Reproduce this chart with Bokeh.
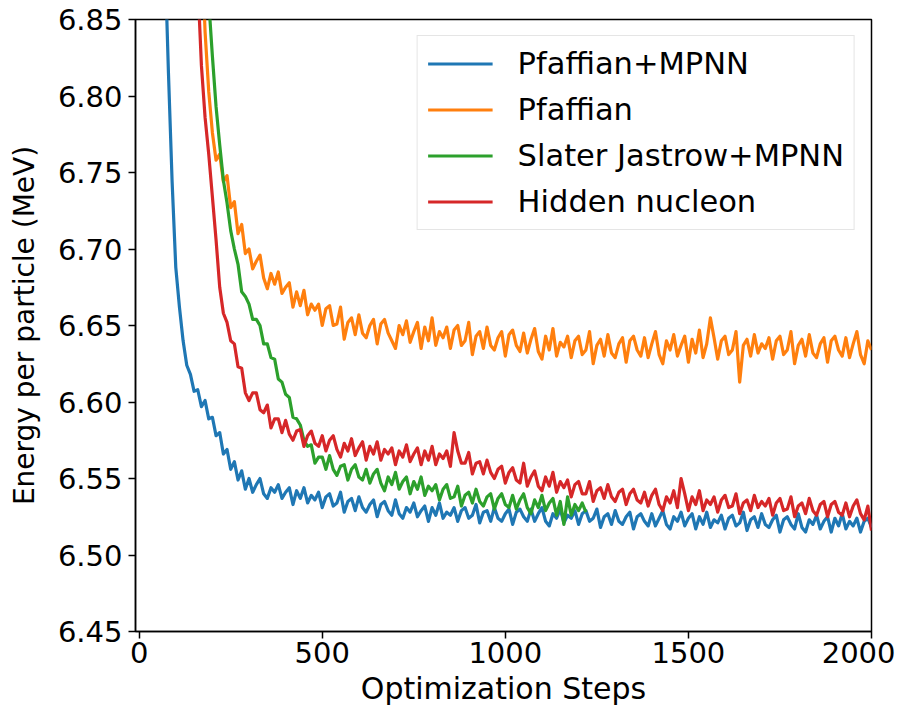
from bokeh.plotting import figure
from bokeh.models import Range1d, FixedTicker, Legend, LegendItem, NumeralTickFormatter
from bokeh.embed import file_html
from bokeh.resources import INLINE

# ---------------- data ----------------
x_ticks = [0, 500, 1000, 1500, 2000]
y_ticks = [6.45, 6.50, 6.55, 6.60, 6.65, 6.70, 6.75, 6.80, 6.85]
step_spacing = 10

series_names = ["Pfaffian+MPNN", "Pfaffian", "Slater Jastrow+MPNN", "Hidden nucleon"]
series_colors = ["#1f77b4", "#ff7f0e", "#2ca02c", "#d62728"]

pfaffian_mpnn_start = 0
pfaffian_mpnn = [
    9.60, 9.00, 8.45, 7.95, 7.55, 7.25, 7.04, 6.895, 6.815, 6.744,
    6.688, 6.662, 6.640, 6.624, 6.618, 6.607, 6.608, 6.597, 6.601, 6.589,
    6.590, 6.578, 6.580, 6.566, 6.569, 6.556, 6.561, 6.549, 6.555, 6.543,
    6.550, 6.541, 6.546, 6.550, 6.540, 6.537, 6.544, 6.541, 6.546, 6.537,
    6.541, 6.544, 6.533, 6.542, 6.537, 6.544, 6.534, 6.539, 6.536, 6.541,
    6.531, 6.538, 6.540, 6.532, 6.534, 6.541, 6.528, 6.535, 6.537, 6.529,
    6.538, 6.531, 6.528, 6.533, 6.536, 6.525, 6.533, 6.535, 6.529, 6.526,
    6.536, 6.527, 6.524, 6.531, 6.528, 6.534, 6.525, 6.529, 6.532, 6.522,
    6.531, 6.526, 6.534, 6.524, 6.528, 6.526, 6.531, 6.522, 6.529, 6.531,
    6.524, 6.526, 6.533, 6.521, 6.528, 6.529, 6.522, 6.531, 6.524, 6.522,
    6.527, 6.530, 6.520, 6.528, 6.530, 6.525, 6.522, 6.530, 6.522, 6.527,
    6.531, 6.522, 6.519, 6.527, 6.524, 6.530, 6.521, 6.526, 6.524, 6.529,
    6.520, 6.527, 6.529, 6.522, 6.524, 6.530, 6.518, 6.525, 6.527, 6.520,
    6.529, 6.522, 6.520, 6.525, 6.528, 6.517, 6.525, 6.527, 6.522, 6.519,
    6.527, 6.519, 6.524, 6.529, 6.520, 6.517, 6.525, 6.522, 6.528, 6.519,
    6.524, 6.527, 6.517, 6.525, 6.520, 6.528, 6.518, 6.523, 6.521, 6.526,
    6.517, 6.524, 6.526, 6.519, 6.521, 6.528, 6.516, 6.523, 6.525, 6.518,
    6.527, 6.520, 6.518, 6.523, 6.526, 6.515, 6.523, 6.525, 6.520, 6.517,
    6.527, 6.518, 6.515, 6.523, 6.520, 6.526, 6.517, 6.522, 6.525, 6.515,
    6.524, 6.519, 6.527, 6.517, 6.522, 6.519, 6.524, 6.515, 6.522, 6.524,
    6.518,
]

pfaffian_start = 140
pfaffian = [
    7.20, 7.08, 6.98, 6.905, 6.842, 6.803, 6.776, 6.758, 6.762, 6.744,
    6.748, 6.727, 6.731, 6.710, 6.716, 6.697,
    6.700, 6.687, 6.692, 6.696, 6.681, 6.674, 6.684, 6.677, 6.685, 6.671,
    6.675, 6.678, 6.662, 6.672, 6.663, 6.673, 6.657, 6.664, 6.660, 6.664,
    6.650, 6.661, 6.663, 6.650, 6.651, 6.662, 6.641, 6.652, 6.655, 6.644,
    6.657, 6.645, 6.642, 6.650, 6.654, 6.638, 6.651, 6.654, 6.645, 6.640,
    6.635, 6.650, 6.644, 6.653, 6.639, 6.646, 6.652, 6.635, 6.649, 6.640,
    6.655, 6.637, 6.646, 6.642, 6.649, 6.635, 6.647, 6.650, 6.637, 6.640,
    6.652, 6.631, 6.643, 6.646, 6.635, 6.649, 6.637, 6.634, 6.642, 6.646,
    6.630, 6.644, 6.647, 6.637, 6.633, 6.645, 6.632, 6.641, 6.648, 6.633,
    6.628, 6.643, 6.634, 6.648, 6.630, 6.639, 6.636, 6.643, 6.629, 6.640,
    6.643, 6.631, 6.634, 6.646, 6.625, 6.637, 6.641, 6.630, 6.644, 6.632,
    6.629, 6.638, 6.642, 6.626, 6.640, 6.643, 6.634, 6.630, 6.642, 6.629,
    6.638, 6.646, 6.631, 6.625, 6.640, 6.634, 6.644, 6.630, 6.637, 6.643,
    6.626, 6.641, 6.632, 6.647, 6.629, 6.638, 6.655, 6.642, 6.628, 6.640,
    6.643, 6.631, 6.634, 6.646, 6.613, 6.637, 6.641, 6.630, 6.644, 6.632,
    6.638, 6.635, 6.642, 6.628, 6.640, 6.643, 6.631, 6.634, 6.646, 6.625,
    6.637, 6.641, 6.630, 6.644, 6.632, 6.629, 6.638, 6.642, 6.626, 6.640,
    6.643, 6.634, 6.630, 6.642, 6.629, 6.638, 6.646, 6.631, 6.625, 6.640,
    6.634,
]

slater_jastrow_start = 150
slater_jastrow = [
    7.15, 7.06, 6.98, 6.92, 6.862, 6.826, 6.793, 6.768, 6.745, 6.730,
    6.712, 6.700, 6.690, 6.672, 6.669,
    6.664, 6.654, 6.654, 6.650, 6.638, 6.638, 6.629, 6.628, 6.615, 6.613,
    6.605, 6.603, 6.590, 6.589, 6.585, 6.575, 6.571, 6.572, 6.560, 6.564,
    6.564, 6.556, 6.565, 6.556, 6.552, 6.558, 6.559, 6.549, 6.556, 6.559,
    6.551, 6.549, 6.556, 6.547, 6.553, 6.556, 6.547, 6.542, 6.551, 6.546,
    6.554, 6.543, 6.548, 6.551, 6.540, 6.548, 6.543, 6.551, 6.539, 6.545,
    6.542, 6.546, 6.536, 6.543, 6.546, 6.537, 6.538, 6.545, 6.532, 6.539,
    6.541, 6.534, 6.543, 6.535, 6.532, 6.538, 6.540, 6.530, 6.537, 6.540,
    6.533, 6.531, 6.539, 6.530, 6.536, 6.540, 6.531, 6.527, 6.536, 6.531,
    6.539, 6.529, 6.534, 6.537, 6.526, 6.535, 6.520, 6.538, 6.526, 6.533,
    6.529, 6.534, 6.528,
]

hidden_nucleon_start = 120
hidden_nucleon = [
    7.15, 7.05, 6.98, 6.93, 6.875, 6.820, 6.786, 6.762, 6.734, 6.706,
    6.675, 6.658, 6.652, 6.640, 6.638, 6.623, 6.622, 6.606,
    6.601, 6.606, 6.606, 6.595, 6.593, 6.598, 6.583, 6.589, 6.589, 6.580,
    6.588, 6.579, 6.575, 6.581, 6.582, 6.571, 6.578, 6.581, 6.573, 6.571,
    6.578, 6.568, 6.575, 6.578, 6.569, 6.564, 6.573, 6.568, 6.576, 6.565,
    6.570, 6.574, 6.562, 6.571, 6.566, 6.574, 6.562, 6.569, 6.566, 6.570,
    6.559, 6.568, 6.564, 6.572, 6.561, 6.566, 6.570, 6.559, 6.568, 6.562,
    6.571, 6.559, 6.566, 6.563, 6.568, 6.558, 6.580, 6.568, 6.560, 6.560,
    6.567, 6.553, 6.560, 6.561, 6.553, 6.562, 6.554, 6.550, 6.556, 6.558,
    6.547, 6.554, 6.557, 6.549, 6.547, 6.560, 6.545, 6.551, 6.555, 6.545,
    6.542, 6.551, 6.545, 6.554, 6.541, 6.548, 6.544, 6.549, 6.538, 6.546,
    6.548, 6.540, 6.540, 6.548, 6.535, 6.542, 6.544, 6.537, 6.546, 6.538,
    6.535, 6.541, 6.543, 6.533, 6.540, 6.543, 6.536, 6.534, 6.541, 6.532,
    6.539, 6.543, 6.533, 6.529, 6.538, 6.534, 6.542, 6.531, 6.550, 6.540,
    6.529, 6.538, 6.533, 6.542, 6.529, 6.536, 6.533, 6.538, 6.528, 6.536,
    6.539, 6.531, 6.532, 6.540, 6.527, 6.534, 6.536, 6.529, 6.539, 6.531,
    6.535, 6.532, 6.537, 6.526, 6.534, 6.537, 6.529, 6.530, 6.538, 6.525,
    6.532, 6.534, 6.527, 6.537, 6.529, 6.526, 6.533, 6.535, 6.525, 6.533,
    6.535, 6.528, 6.526, 6.534, 6.525, 6.532, 6.536, 6.527, 6.523, 6.532,
    6.516,
]

series_values = [pfaffian_mpnn, pfaffian, slater_jastrow, hidden_nucleon]
series_starts = [pfaffian_mpnn_start, pfaffian_start, slater_jastrow_start, hidden_nucleon_start]

# ---------------- figure ----------------
FONT = "DejaVu Sans"

p = figure(width=895, height=708, output_backend="svg", toolbar_location=None,
           x_range=Range1d(-10, 2000), y_range=Range1d(6.45, 6.85),
           min_border_left=135, min_border_right=24,
           min_border_top=19, min_border_bottom=77,
           x_axis_label="Optimization Steps",
           y_axis_label="Energy per particle (MeV)")

p.grid.visible = False
p.outline_line_color = "black"
p.outline_line_width = 1.5
p.outline_line_alpha = 1.0
p.background_fill_color = "white"
p.border_fill_color = "white"

for ax in (p.xaxis[0], p.yaxis[0]):
    ax.major_label_text_font = FONT
    ax.major_label_text_font_size = "29px"
    ax.major_label_text_color = "black"
    ax.axis_label_text_font = FONT
    ax.axis_label_text_font_style = "normal"
    ax.axis_label_text_color = "black"
    ax.axis_line_color = "black"
    ax.axis_line_width = 1.5
    ax.major_tick_line_color = "black"
    ax.major_tick_line_width = 1.5
    ax.major_tick_out = 7
    ax.major_tick_in = 0
    ax.minor_tick_line_color = None

p.xaxis.axis_label_text_font_size = "30px"
p.yaxis.axis_label_text_font_size = "28px"
p.xaxis.ticker = FixedTicker(ticks=x_ticks)
p.yaxis.ticker = FixedTicker(ticks=y_ticks)
p.yaxis.formatter = NumeralTickFormatter(format="0.00")
p.xaxis.major_label_standoff = 3
p.xaxis.axis_label_standoff = 5
p.yaxis.major_label_standoff = 6
p.yaxis.axis_label_standoff = 14

items = []
for name, color, vals, start in zip(series_names, series_colors, series_values, series_starts):
    xs = [start + step_spacing * i for i in range(len(vals))]
    r = p.line(xs, vals, line_color=color, line_width=3.2, line_join="round")
    items.append(LegendItem(label=name, renderers=[r]))

legend = Legend(items=items, location="top_right")
legend.label_text_font = FONT
legend.label_text_font_size = "30.5px"
legend.label_text_color = "black"
legend.glyph_width = 65
legend.glyph_height = 33
legend.label_height = 33
legend.label_standoff = 25
legend.spacing = 11
legend.padding = 10
legend.margin = 16
legend.border_line_color = "#cccccc"
legend.border_line_width = 1.5
legend.background_fill_color = "white"
legend.background_fill_alpha = 1.0
p.add_layout(legend)

open("out.html", "w").write(file_html(p, INLINE))
